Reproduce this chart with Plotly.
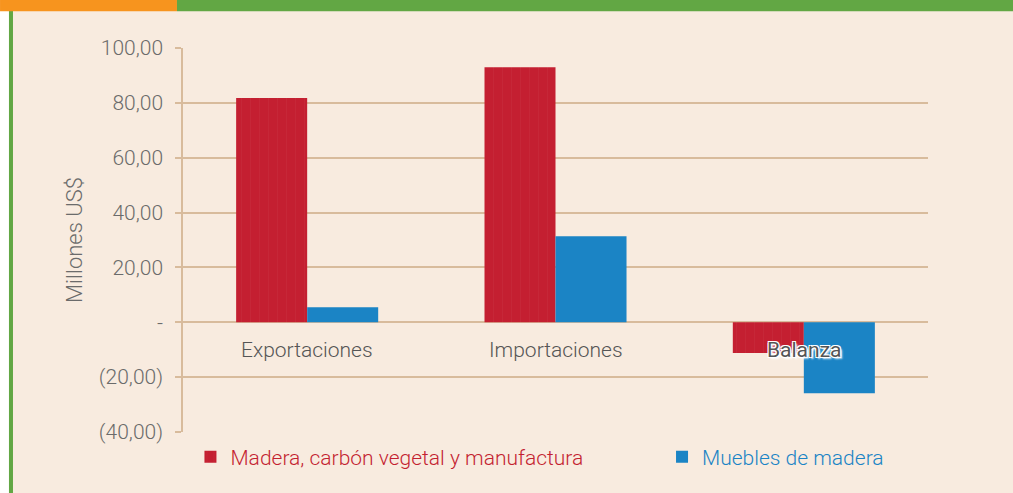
import plotly.graph_objects as go

categorias = ["Exportaciones", "Importaciones", "Balanza"]
madera = [81.8, 93.0, -11.2]
muebles = [5.5, 31.4, -25.9]
tick_vals = [-40, -20, 0, 20, 40, 60, 80, 100]
tick_text = ["(40,00)", "(20,00)", "-", "20,00", "40,00", "60,00", "80,00", "100,00"]

ROJO = "#c41f31"
AZUL = "#1b84c5"
TAN = "#d8bb9c"
GRIS = "#6b6b6b"
FONDO = "#f8ebdf"
FONT = "Roboto, Liberation Sans, Arial, sans-serif"

fig = go.Figure()
fig.add_trace(go.Bar(
    x=categorias, y=madera, legend="legend",
    name=f"<span style='color:{ROJO}'>Madera, carbón vegetal y manufactura</span>",
    marker=dict(color=ROJO, line=dict(width=0),
                pattern=dict(shape="|", fillmode="overlay", fgcolor="rgba(255,255,255,0.07)",
                             size=9, solidity=0.1)),
))
fig.add_trace(go.Bar(
    x=categorias, y=muebles, legend="legend2",
    name=f"<span style='color:{AZUL}'>Muebles de madera</span>",
    marker=dict(color=AZUL, line=dict(width=0)),
))

# category labels sit just under the zero line
for c in categorias:
    font = dict(family=FONT, size=21, color="#555555", weight=300)
    if c == "Balanza":
        font["shadow"] = "1px 1px 0 #fff, -1px -1px 0 #fff, 1px -1px 0 #fff, -1px 1px 0 #fff, 2px 2px 2px #fff"
        font["weight"] = 400
    fig.add_annotation(x=c, y=0, xref="x", yref="y", text=c, showarrow=False,
                       yanchor="top", yshift=-14, font=font)

# frame decorations: white strip, green side line, top band
fig.add_shape(type="rect", xref="paper", yref="paper", x0=-0.2456, x1=-0.2336, y0=-0.25, y1=1.13,
              fillcolor="white", line_width=0, layer="below")
fig.add_shape(type="rect", xref="paper", yref="paper", x0=-0.2336, x1=-0.2282, y0=-0.25, y1=1.13,
              fillcolor="#62a744", line_width=0, layer="below")
fig.add_shape(type="rect", xref="paper", yref="paper", x0=-0.2456, x1=-0.0081, y0=1.096, y1=1.13,
              fillcolor="#f7941e", line_width=0)
fig.add_shape(type="rect", xref="paper", yref="paper", x0=-0.0081, x1=1.12, y0=1.096, y1=1.13,
              fillcolor="#62a744", line_width=0)

leg = dict(orientation="h", y=-0.012, xanchor="left", yanchor="top",
           font=dict(size=21, weight=300), itemwidth=30, bgcolor="rgba(0,0,0,0)")

fig.update_layout(
    width=1013, height=493,
    margin=dict(l=183, r=85, t=48, b=61, autoexpand=False),
    paper_bgcolor=FONDO, plot_bgcolor=FONDO,
    barmode="group", bargap=0.428, bargroupgap=0,
    font=dict(family=FONT, color=GRIS, weight=300),
    showlegend=True,
    legend=dict(leg, x=0.01),
    legend2=dict(leg, x=0.643),
    xaxis=dict(showticklabels=False, showgrid=False, showline=False, zeroline=False,
               ticks=""),
    yaxis=dict(range=[-40, 100], tickvals=tick_vals, ticktext=tick_text, automargin=False,
               tickfont=dict(size=21, color=GRIS, weight=300), ticklabelstandoff=8,
               showgrid=True, gridcolor=TAN, gridwidth=1.5,
               zeroline=True, zerolinecolor=TAN, zerolinewidth=1.5,
               showline=True, linecolor=TAN, linewidth=1.5,
               ticks="outside", ticklen=6, tickcolor=TAN, tickwidth=1.5,
               title=dict(text="Millones US$", font=dict(size=22, color=GRIS, weight=300), standoff=10)),
)

fig.write_html("out.html", config={"displayModeBar": False},
               post_script="document.body.style.margin='0';")
